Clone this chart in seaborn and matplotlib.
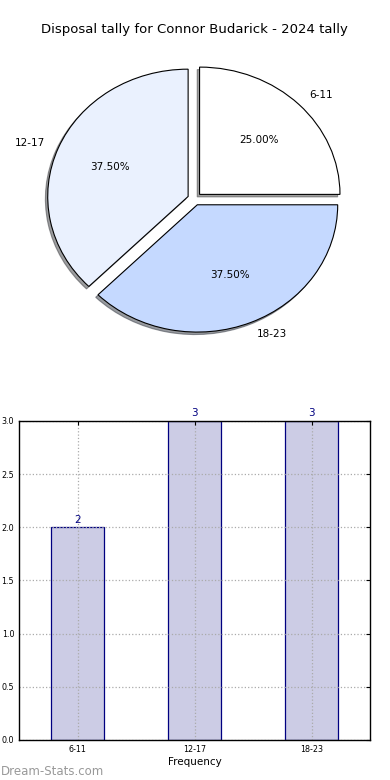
import matplotlib
matplotlib.use("Agg")
import matplotlib.pyplot as plt
import seaborn as sns

# disposal bins and how many games fell in each
bins = ["6-11", "12-17", "18-23"]
games = [2, 3, 3]
pie_colors = ["#FFFFFF", "#EAF1FE", "#C5D9FF"]
title = "Disposal tally for Connor Budarick - 2024 tally"

sns.set_style("white")
plt.rcParams["font.family"] = ["DejaVu Sans"]
plt.rcParams["text.color"] = "black"
plt.rcParams["xtick.color"] = "black"
plt.rcParams["ytick.color"] = "black"
plt.rcParams["axes.labelcolor"] = "black"

fig = plt.figure(figsize=(3.9, 7.8), dpi=100)

# pie on top, old style ellipse (not equal aspect)
ax1 = fig.add_axes([0.049, 0.541, 0.9, 0.408])
wedges, texts, autotexts = ax1.pie(games, labels=bins, colors=pie_colors, autopct="%.2f%%",
                                   explode=[0.05] * 3,
                                   shadow={"ox": -0.012, "oy": -0.014, "shade": 0.75},
                                   startangle=0,
                                   wedgeprops={"edgecolor": "black", "linewidth": 0.8},
                                   textprops={"fontsize": 7.5, "color": "black"})
ax1.set_aspect("auto")
ax1.set_xlim(-1.25, 1.25)
ax1.set_ylim(-1.25, 1.25)
ax1.set_title(title, fontsize=9.5, pad=5, color="black")

# bar chart below
ax2 = fig.add_axes([0.049, 0.0513, 0.9, 0.409])
sns.barplot(x=bins, y=games, color="#CCCCE5", edgecolor="navy", linewidth=0.9,
            saturation=1, width=0.45, ax=ax2)
ax2.set_ylim(0, 3)
ax2.set_xlim(-0.5, 2.5)
ax2.set_xlabel("Frequency", fontsize=7.5, labelpad=2)
ax2.set_ylabel("")
ax2.tick_params(axis="both", labelsize=5.8, direction="in", top=True, right=True, length=3)
ax2.set_yticks([0.0, 0.5, 1.0, 1.5, 2.0, 2.5, 3.0])
ax2.grid(True, linestyle=":", color="#aaaaaa", linewidth=0.9)
ax2.set_axisbelow("line")
for s in ax2.spines.values():
    s.set_color("black")
    s.set_linewidth(1)
    s.set_zorder(3)
ax2.bar_label(ax2.containers[0], color="navy", fontsize=7.5, padding=2)

fig.text(0.003, 0.007, "Dream-Stats.com", color="#999999", fontsize=8.5)

fig.savefig("out.png", dpi=100)
